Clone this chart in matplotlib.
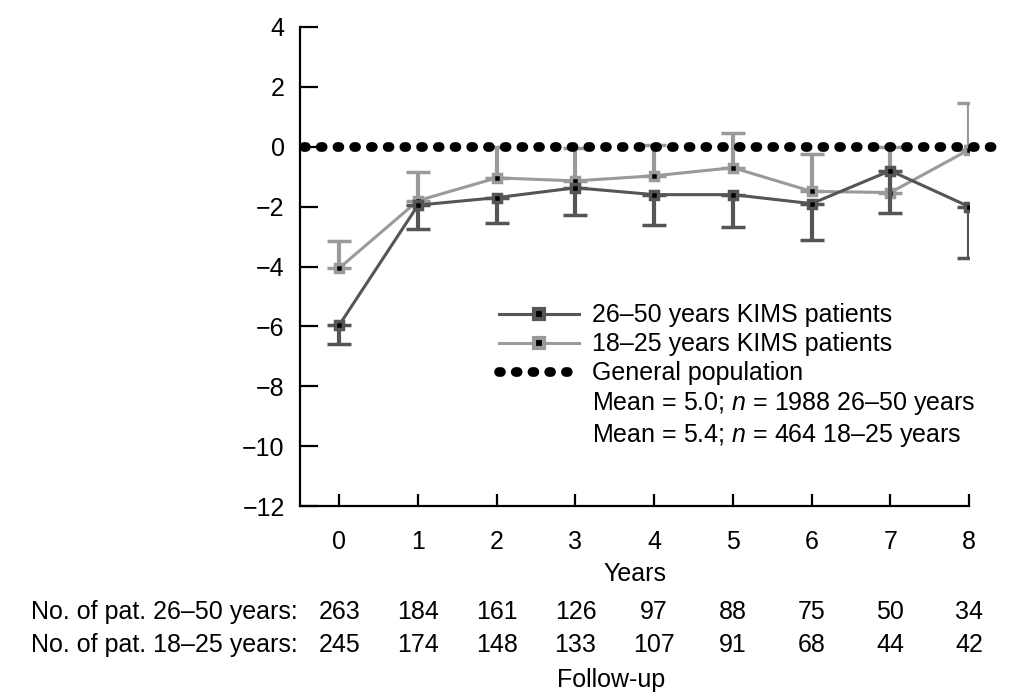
import matplotlib.pyplot as plt
from matplotlib.lines import Line2D

plt.rcParams['font.family'] = ['Liberation Sans', 'DejaVu Sans']
plt.rcParams['mathtext.fontset'] = 'custom'
plt.rcParams['mathtext.it'] = 'Liberation Sans:italic'
plt.rcParams['mathtext.rm'] = 'Liberation Sans'

years = [0, 1, 2, 3, 4, 5, 6, 7, 8]

# 26-50 years group: mean and lower end of error bar
mean_26_50 = [-5.95, -1.95, -1.7, -1.37, -1.6, -1.6, -1.9, -0.8, -2.0]
low_26_50 = [-6.6, -2.75, -2.55, -2.28, -2.6, -2.68, -3.1, -2.2, -3.7]

# 18-25 years group: mean and upper end of error bar
mean_18_25 = [-4.05, -1.8, -1.04, -1.14, -0.97, -0.7, -1.49, -1.53, -0.1]
up_18_25 = [-3.15, -0.84, 0.0, -0.03, 0.07, 0.47, -0.23, 0.0, 1.47]

n_26_50 = [263, 184, 161, 126, 97, 88, 75, 50, 34]
n_18_25 = [245, 174, 148, 133, 107, 91, 68, 44, 42]

dark = '#555555'
light = '#9a9a9a'
fs = 18
dots = (0, (0.2, 1.52))

fig = plt.figure(figsize=(10.13, 6.93), dpi=100)
ax = fig.add_axes([300 / 1013, 1 - 506 / 693, 669 / 1013, 479 / 693])

# general population reference at 0
ax.plot([-0.45, 8.4], [0, 0], color='black', lw=7, linestyle=dots,
        dash_capstyle='round', clip_on=False, zorder=5)

err_dark = [[m - l for m, l in zip(mean_26_50, low_26_50)], [0] * len(years)]
err_light = [[0] * len(years), [u - m for m, u in zip(mean_18_25, up_18_25)]]

style = dict(lw=2.2, elinewidth=3, capsize=8.5, capthick=2.5, marker='s',
             ms=5.5, mfc='black', mew=2.5)
ax.errorbar(years, mean_18_25, yerr=err_light, color=light, mec=light, zorder=3,
            **style)
ax.errorbar(years, mean_26_50, yerr=err_dark, color=dark, mec=dark, zorder=4,
            **style)

ax.set_xlim(-0.5, 8.0)
ax.set_ylim(-12, 4)
ax.set_yticks(range(-12, 5, 2))
ax.set_yticklabels([str(v).replace('-', '\u2212') for v in range(-12, 5, 2)])
ax.set_xticks(years)
for s in ['top', 'right']:
    ax.spines[s].set_visible(False)
for s in ['left', 'bottom']:
    ax.spines[s].set_linewidth(1.6)
ax.tick_params(axis='y', direction='in', length=13, width=1.6, labelsize=fs, pad=11)
ax.tick_params(axis='x', direction='in', length=9, width=1.6, labelsize=fs, pad=17)
ax.set_xlabel('Years', fontsize=fs, labelpad=6)

handles = [
    Line2D([], [], color=dark, lw=2.2, marker='s', ms=7, mfc='black', mec=dark, mew=3),
    Line2D([], [], color=light, lw=2.2, marker='s', ms=7, mfc='black', mec=light, mew=3),
    Line2D([], [], color='black', lw=7, linestyle=dots, dash_capstyle='round'),
    Line2D([], [], color='none'),
    Line2D([], [], color='none'),
]
labels = ['26\u201350 years KIMS patients',
          '18\u201325 years KIMS patients',
          'General population',
          'Mean = 5.0; $n$ = 1988 26\u201350 years',
          'Mean = 5.4; $n$ = 464 18\u201325 years']
ax.legend(handles, labels, loc='upper left', bbox_to_anchor=(0.297, 0.423),
          frameon=False, fontsize=fs, handlelength=3.2, handletextpad=0.55,
          labelspacing=0.2, borderaxespad=0, borderpad=0)

# patient counts below the axis
fig.text(298 / 1013, 1 - 612 / 693, 'No. of pat. 26\u201350 years:', ha='right',
         va='center', fontsize=fs)
fig.text(298 / 1013, 1 - 645 / 693, 'No. of pat. 18\u201325 years:', ha='right',
         va='center', fontsize=fs)
for x, a, b in zip(years, n_26_50, n_18_25):
    ax.text(x, -12 - 106 / 29.94, str(a), ha='center', va='center', fontsize=fs,
            clip_on=False)
    ax.text(x, -12 - 139 / 29.94, str(b), ha='center', va='center', fontsize=fs,
            clip_on=False)
fig.text(611 / 1013, 1 - 680 / 693, 'Follow-up', ha='center', va='center', fontsize=fs)

fig.savefig('out.png', dpi=100)
